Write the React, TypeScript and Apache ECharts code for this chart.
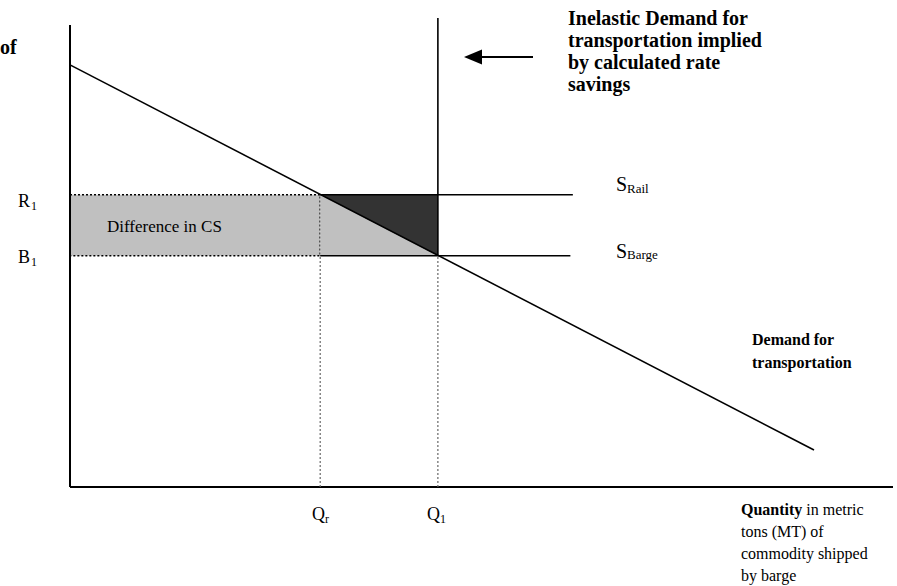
import React, { useEffect, useRef } from "react";
import * as echarts from "echarts";

// Economic quantities (data units: quantity 0-100, price 0-100)
const quantityMarks = [30.4, 44.7]; // Qr, Q1
const priceMarks = [62.3, 49.3]; // R1 (rail rate), B1 (barge rate)
const demandQ = [0, 90.4];
const demandP = [90.0, 7.9];
const supplyEndQ = [61.1, 60.8]; // end of S_Rail, S_Barge lines
const axisTop = [98.5];
const axisRight = [100];
const inelasticTop = [100];

const FONT = "Liberation Serif";

export default function App() {
  const ref = useRef<HTMLDivElement>(null);
  useEffect(() => {
    if (!ref.current) return;
    const chart = echarts.init(ref.current, undefined, { renderer: "svg" });
    const [qr, q1] = quantityMarks;
    const [r1, b1] = priceMarks;

    const polygons = [
      { pts: [[0, r1], [qr, r1], [qr, b1], [0, b1]], fill: "#c0c0c0", stroke: "#000", dash: [2, 2], lw: 1.5 },
      { pts: [[qr, r1], [q1, b1], [qr, b1]], fill: "#c0c0c0", stroke: "none", dash: null, lw: 0 },
      { pts: [[qr, r1], [q1, r1], [q1, b1]], fill: "#333333", stroke: "none", dash: null, lw: 0 },
    ];

    const line = (data: number[][], width: number, type: any, color = "#000", z = 3) => ({
      type: "line",
      data,
      symbol: "none",
      silent: true,
      z,
      lineStyle: { color, width, type },
    });

    const txt = (text: string, x: number, y: number, size: number, bold = false, extra: any = {}) => ({
      type: "text",
      x,
      y,
      z: 100,
      silent: true,
      style: {
        text,
        fill: "#000",
        fontSize: size,
        fontFamily: FONT,
        fontWeight: bold ? "bold" : "normal",
        textAlign: "left",
        textVerticalAlign: "middle",
        ...extra,
      },
    });

    chart.setOption({
      animation: false,
      grid: { left: 70, right: 4, top: 18, bottom: 99 },
      xAxis: { type: "value", min: 0, max: 100, show: false },
      yAxis: { type: "value", min: 0, max: 100, show: false },
      series: [
        {
          type: "custom",
          z: 1,
          silent: true,
          data: polygons.map((_, i) => [i]),
          renderItem: (params: any, api: any) => {
            const p = polygons[api.value(0)];
            return {
              type: "polygon",
              shape: { points: p.pts.map((pt) => api.coord(pt)) },
              style: {
                fill: p.fill,
                stroke: p.stroke,
                lineWidth: p.lw,
                lineDash: p.dash || undefined,
              },
            };
          },
        },
        // axes
        line([[0, 0], [0, axisTop[0]]], 2, "solid"),
        line([[0, 0], [axisRight[0], 0]], 2, "solid"),
        // demand
        line([[demandQ[0], demandP[0]], [demandQ[1], demandP[1]]], 1.6, "solid"),
        // supply lines
        line([[qr, r1], [supplyEndQ[0], r1]], 1.6, "solid"),
        line([[qr, b1], [supplyEndQ[1], b1]], 1.6, "solid"),
        // inelastic demand vertical
        line([[q1, b1], [q1, inelasticTop[0]]], 1.6, "solid"),
        // dotted drop lines
        line([[q1, 0], [q1, b1]], 1.2, [2, 2], "#666"),
        line([[qr, 0], [qr, b1]], 1.2, [2, 2], "#666"),
      ],
      graphic: [
        txt("of", 0, 47, 20, true),
        txt("Inelastic Demand for", 568, 17.5, 20, true),
        txt("transportation implied", 568, 39.5, 20, true),
        txt("by calculated rate", 568, 61.5, 20, true),
        txt("savings", 568, 83.5, 20, true),
        {
          type: "line",
          silent: true,
          z: 100,
          shape: { x1: 480, y1: 57, x2: 533, y2: 57 },
          style: { stroke: "#000", lineWidth: 2 },
        },
        {
          type: "polygon",
          silent: true,
          z: 100,
          shape: { points: [[464, 57], [482, 49.5], [482, 64.5]] },
          style: { fill: "#000" },
        },
        txt("R", 18, 201, 18),
        txt("1", 31, 206, 12),
        txt("B", 18, 257, 18),
        txt("1", 31, 262, 12),
        txt("Difference in CS", 107, 226, 17),
        txt("S", 616, 183.5, 20),
        txt("Rail", 627, 188.5, 13),
        txt("S", 616, 250.5, 20),
        txt("Barge", 627, 254.5, 13),
        txt("Demand for", 752, 339.5, 16, true),
        txt("transportation", 752, 362.5, 16, true),
        txt("Q", 312, 514, 18),
        txt("r", 325, 519, 12),
        txt("Q", 427, 514, 18),
        txt("1", 440, 519, 12),
        {
          type: "text",
          x: 741,
          y: 509.5,
          z: 100,
          silent: true,
          style: {
            text: "{b|Quantity} in metric",
            fill: "#000",
            fontSize: 16,
            fontFamily: FONT,
            textAlign: "left",
            textVerticalAlign: "middle",
            rich: { b: { fontWeight: "bold", fontSize: 16, fontFamily: FONT } },
          },
        },
        txt("tons (MT) of", 741, 531.5, 16),
        txt("commodity shipped", 741, 553.5, 16),
        txt("by barge", 741, 575.5, 16),
      ],
    });
    return () => chart.dispose();
  }, []);
  return (
    <div
      ref={ref}
      style={{ position: "absolute", left: 0, top: 0, width: 897, height: 586, background: "#fff" }}
    />
  );
}
